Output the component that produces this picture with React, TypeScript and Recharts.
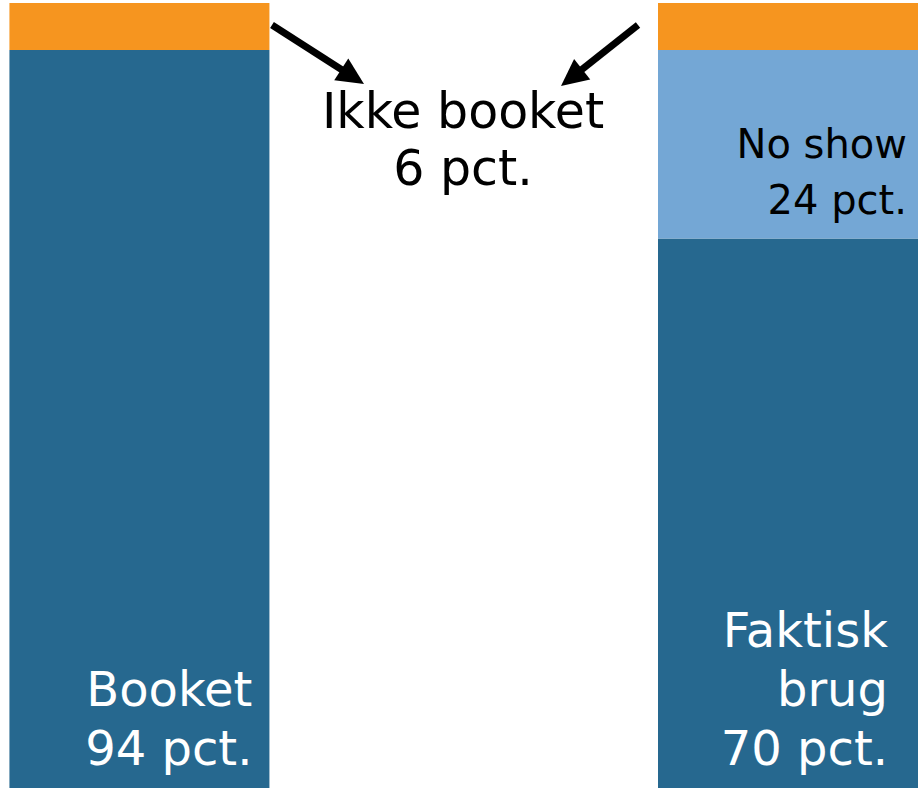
import { Bar, BarChart, Customized, LabelList, XAxis, YAxis } from "recharts";

const categories = ["Booket", "Faktisk brug"];
const positions = [0, 1];
const usedValues = [94, 70];
const noShowValues = [0, 24];
const notBookedValues = [6, 6];

const usedLabels = [["Booket", "94 pct."], ["Faktisk", "brug", "70 pct."]];
const noShowLabels = [[], ["No show", "24 pct."]];
const centerLabel = ["Ikke booket", "6 pct."];

const COLORS = { used: "#26688F", noShow: "#74A7D5", notBooked: "#F6951F" };
const FONT = "'DejaVu Sans', Verdana, sans-serif";

const data = categories.map((name, i) => ({
  name,
  pos: positions[i],
  used: usedValues[i],
  noShow: noShowValues[i],
  notBooked: notBookedValues[i],
}));

// right-aligned multi-line label stuck to the bottom right of a segment
// (LabelList dataKey is "name", so the value tells us which bar we're on)
function stackLabel(lines: string[][], opts: { size: number; lh: number; fill: string; insets: number[]; bottom: number }) {
  return (props: any) => {
    const { x, y, width, height, value } = props;
    const idx = categories.indexOf(value);
    const rows = lines[idx] || [];
    if (!rows.length) return null;
    const right = x + width - opts.insets[idx];
    const last = y + height - opts.bottom;
    return (
      <text textAnchor="end" fontFamily={FONT} fontSize={opts.size} fill={opts.fill}>
        {rows.map((r, i) => (
          <tspan key={i} x={right} y={last - (rows.length - 1 - i) * opts.lh}>
            {r}
          </tspan>
        ))}
      </text>
    );
  };
}

function Arrow({ from, to }: { from: number[]; to: number[] }) {
  const dx = to[0] - from[0];
  const dy = to[1] - from[1];
  const len = Math.sqrt(dx * dx + dy * dy);
  const ux = dx / len;
  const uy = dy / len;
  const head = 27;
  const half = 13;
  const bx = to[0] - ux * head;
  const by = to[1] - uy * head;
  const pts = [
    [to[0], to[1]],
    [bx - uy * half, by + ux * half],
    [bx + uy * half, by - ux * half],
  ];
  return (
    <g>
      <line x1={from[0]} y1={from[1]} x2={bx + ux * 2} y2={by + uy * 2} stroke="#000" strokeWidth={7} />
      <polygon points={pts.map((p) => p.join(",")).join(" ")} fill="#000" />
    </g>
  );
}

function Annotation() {
  return (
    <g>
      <Arrow from={[272, 25]} to={[364, 84]} />
      <Arrow from={[638, 25]} to={[561, 86]} />
      <text textAnchor="middle" fontFamily={FONT} fontSize={49} fill="#000">
        {centerLabel.map((t, i) => (
          <tspan key={i} x={463} y={128 + i * 57}>
            {t}
          </tspan>
        ))}
      </text>
    </g>
  );
}

export default function App() {
  return (
    <div style={{ position: "absolute", left: 0, top: 0, background: "#fff" }}>
      <BarChart width={918} height={788} data={data} margin={{ top: 3, right: 0, left: 10, bottom: 0 }}>
        <XAxis type="number" dataKey="pos" domain={[-0.2, 1.2]} hide />
        <YAxis type="number" domain={[0, 100]} hide />
        <Bar dataKey="used" stackId="a" fill={COLORS.used} barSize={260} isAnimationActive={false}>
          <LabelList
            dataKey="name"
            content={stackLabel(usedLabels, { size: 48, lh: 59, fill: "#fff", insets: [17, 30], bottom: 23 })}
          />
        </Bar>
        <Bar dataKey="noShow" stackId="a" fill={COLORS.noShow} barSize={260} isAnimationActive={false}>
          <LabelList
            dataKey="name"
            content={stackLabel(noShowLabels, { size: 40, lh: 56, fill: "#000", insets: [12, 11], bottom: 25 })}
          />
        </Bar>
        <Bar dataKey="notBooked" stackId="a" fill={COLORS.notBooked} barSize={260} isAnimationActive={false} />
        <Customized component={Annotation} />
      </BarChart>
    </div>
  );
}
